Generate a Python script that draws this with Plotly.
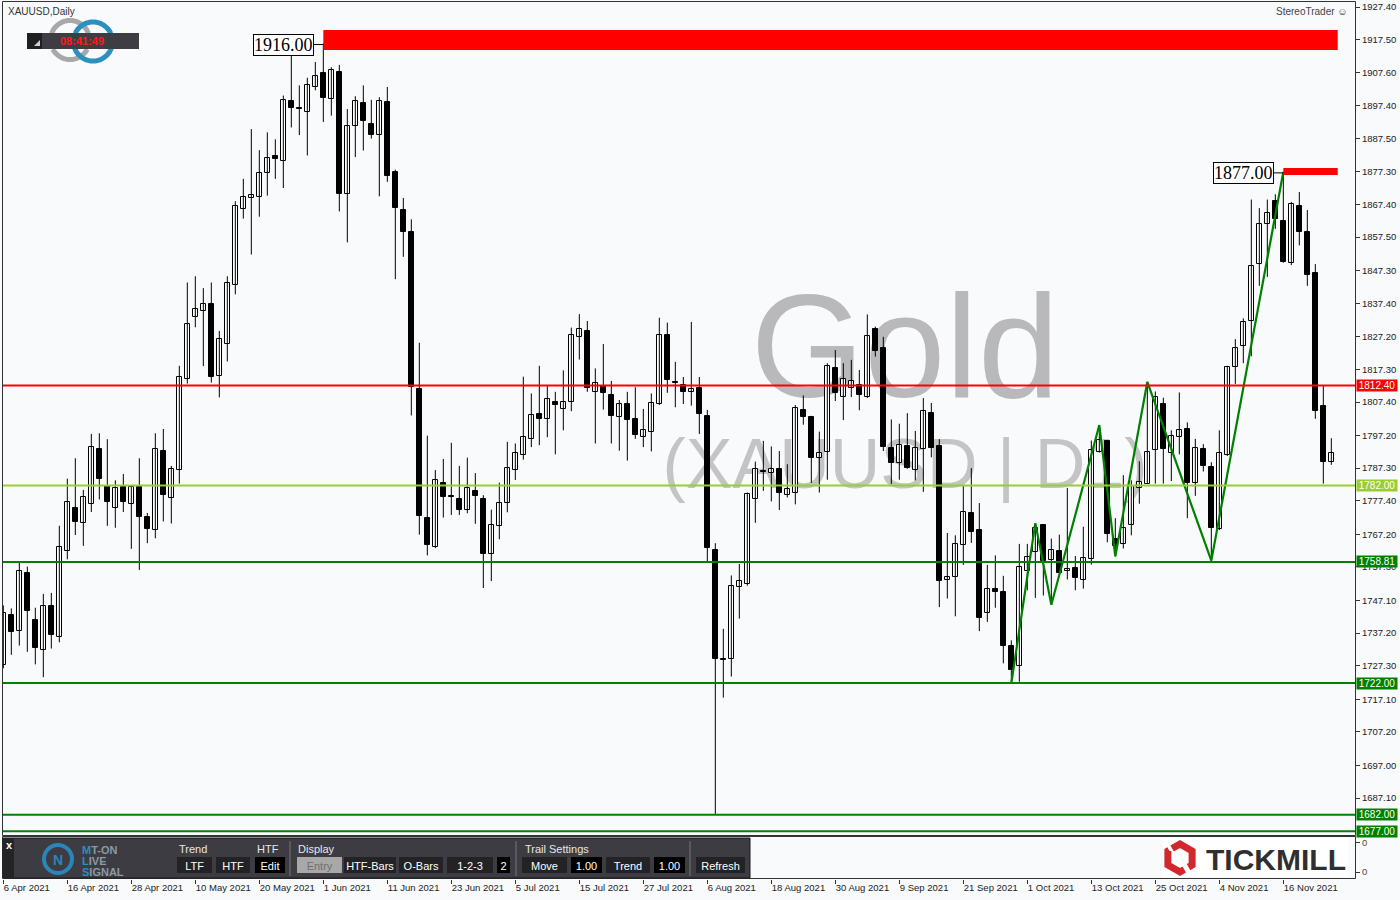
import math
import plotly.graph_objects as go

# ---------------- data ----------------
date_labels = ["6 Apr 2021", "16 Apr 2021", "28 Apr 2021", "10 May 2021", "20 May 2021",
               "1 Jun 2021", "11 Jun 2021", "23 Jun 2021", "5 Jul 2021", "15 Jul 2021",
               "27 Jul 2021", "6 Aug 2021", "18 Aug 2021", "30 Aug 2021", "9 Sep 2021",
               "21 Sep 2021", "1 Oct 2021", "13 Oct 2021", "25 Oct 2021", "4 Nov 2021",
               "16 Nov 2021"]
label_step = 8  # one date label every 8 daily bars

opens = [1727.4, 1742.6, 1737.7, 1755.5, 1741.3, 1732.1, 1745.4, 1736.1, 1762.2, 1775.2,
         1770.5, 1776.5, 1793.2, 1782.0, 1775.3, 1781.5, 1776.5, 1781.7, 1772.6, 1768.6,
         1792.6, 1778.1, 1786.8, 1814.4, 1833.3, 1835.0, 1837.2, 1815.2, 1825.0, 1843.0,
         1866.0, 1869.3, 1869.7, 1877.0, 1882.0, 1880.6, 1898.7, 1896.6, 1895.4, 1903.1,
         1907.4, 1899.5, 1907.6, 1870.7, 1891.3, 1898.2, 1891.8, 1888.4, 1898.4, 1877.2,
         1865.6, 1859.0, 1811.3, 1772.3, 1763.3, 1782.9, 1778.6, 1778.0, 1774.7, 1780.4,
         1778.0, 1761.2, 1769.6, 1776.7, 1786.7, 1791.3, 1796.1, 1803.8, 1802.2, 1807.3,
         1805.4, 1807.3, 1827.1, 1829.0, 1810.5, 1812.4, 1809.4, 1802.9, 1806.7, 1802.2,
         1796.9, 1798.3, 1806.7, 1827.9, 1813.5, 1812.6, 1810.3, 1811.8, 1803.0, 1762.4,
         1729.3, 1729.2, 1751.2, 1752.2, 1777.8, 1786.3, 1785.7, 1787.1, 1779.1, 1779.9,
         1805.1, 1802.8, 1790.3, 1792.2, 1817.6, 1808.9, 1811.8, 1812.6, 1808.9, 1829.5,
         1823.8, 1793.4, 1789.0, 1793.9, 1786.7, 1793.0, 1804.0, 1793.9, 1753.3, 1754.3,
         1763.9, 1773.6, 1768.4, 1743.2, 1750.5, 1749.6, 1733.4, 1727.2, 1756.2, 1761.9,
         1770.0, 1759.4, 1762.2, 1756.1, 1756.9, 1753.3, 1759.8, 1792.2, 1795.5, 1765.9,
         1764.3, 1770.0, 1781.3, 1782.6, 1792.7, 1806.9, 1792.0, 1796.7, 1799.1, 1782.8,
         1793.0, 1787.6, 1768.8, 1791.2, 1817.9, 1824.4, 1831.9, 1849.2, 1861.6, 1868.6,
         1862.3, 1849.5, 1867.0, 1859.0, 1846.6, 1806.1, 1789.1]
highs = [1745.6, 1744.7, 1758.6, 1757.4, 1744.9, 1749.1, 1749.4, 1769.8, 1784.1, 1790.3,
         1780.7, 1797.7, 1797.9, 1796.1, 1783.6, 1785.5, 1782.0, 1790.3, 1773.7, 1797.9,
         1799.2, 1788.0, 1818.4, 1843.7, 1845.6, 1842.0, 1843.7, 1829.0, 1845.6, 1868.4,
         1875.2, 1890.3, 1883.9, 1889.3, 1887.2, 1900.5, 1912.7, 1903.6, 1905.9, 1910.7,
         1916.3, 1909.1, 1909.8, 1896.4, 1900.3, 1903.6, 1899.2, 1900.0, 1903.1, 1878.0,
         1869.4, 1862.9, 1825.4, 1797.2, 1786.7, 1790.1, 1795.0, 1788.0, 1790.5, 1785.8,
         1779.1, 1774.7, 1782.9, 1795.3, 1794.8, 1815.1, 1810.0, 1818.4, 1812.4, 1810.5,
         1817.0, 1830.0, 1834.1, 1832.0, 1817.6, 1825.0, 1813.8, 1808.0, 1810.5, 1811.9,
         1805.3, 1810.0, 1833.0, 1831.5, 1819.6, 1815.0, 1831.7, 1815.0, 1805.0, 1764.5,
         1738.5, 1754.7, 1758.2, 1779.9, 1789.3, 1795.6, 1793.9, 1792.5, 1788.5, 1806.5,
         1809.4, 1803.2, 1798.4, 1819.2, 1823.2, 1819.2, 1820.2, 1817.1, 1834.0, 1830.3,
         1827.2, 1802.1, 1800.8, 1804.0, 1798.6, 1808.6, 1807.1, 1796.1, 1767.6, 1766.9,
         1782.0, 1787.3, 1776.7, 1757.9, 1760.8, 1754.6, 1735.0, 1764.3, 1764.3, 1770.6,
         1770.3, 1765.9, 1767.1, 1781.3, 1760.6, 1769.5, 1795.7, 1800.4, 1795.7, 1772.1,
         1785.2, 1783.6, 1789.4, 1813.5, 1810.6, 1808.7, 1798.8, 1810.3, 1801.2, 1796.2,
         1794.6, 1789.1, 1798.8, 1818.4, 1826.5, 1832.8, 1868.9, 1866.3, 1868.9, 1870.5,
         1877.3, 1868.2, 1871.2, 1865.7, 1849.3, 1812.4, 1796.4]
lows = [1726.5, 1730.6, 1733.4, 1731.5, 1727.7, 1723.8, 1732.5, 1734.4, 1759.6, 1767.0,
        1763.7, 1774.0, 1777.8, 1769.8, 1769.2, 1774.0, 1762.8, 1756.4, 1764.5, 1766.0,
        1771.1, 1770.5, 1782.6, 1813.0, 1830.1, 1818.3, 1813.3, 1808.8, 1819.7, 1840.1,
        1863.1, 1852.2, 1863.7, 1870.1, 1875.2, 1872.4, 1890.8, 1888.5, 1882.3, 1902.1,
        1892.5, 1894.4, 1865.3, 1855.9, 1881.8, 1883.8, 1887.4, 1869.9, 1874.3, 1844.7,
        1851.5, 1803.3, 1767.1, 1760.8, 1763.0, 1772.3, 1773.1, 1773.1, 1773.6, 1770.4,
        1750.9, 1753.0, 1765.7, 1773.9, 1783.7, 1789.9, 1793.7, 1794.3, 1796.7, 1791.5,
        1798.8, 1804.6, 1820.3, 1810.5, 1794.8, 1805.1, 1794.8, 1792.6, 1789.6, 1796.2,
        1793.7, 1792.4, 1806.5, 1810.2, 1805.8, 1806.8, 1806.3, 1797.7, 1758.9, 1682.0,
        1717.6, 1724.0, 1741.6, 1751.6, 1770.7, 1780.4, 1777.2, 1774.6, 1778.4, 1776.3,
        1800.5, 1782.8, 1779.9, 1783.8, 1807.7, 1801.9, 1808.9, 1804.9, 1808.6, 1821.2,
        1792.5, 1782.5, 1783.8, 1787.1, 1783.6, 1780.1, 1790.6, 1745.1, 1747.7, 1742.3,
        1757.9, 1764.6, 1737.8, 1740.6, 1744.9, 1728.0, 1721.9, 1722.4, 1750.2, 1747.9,
        1748.6, 1745.8, 1754.3, 1753.5, 1750.2, 1750.7, 1758.0, 1792.0, 1764.8, 1760.5,
        1762.9, 1766.9, 1776.5, 1782.6, 1782.6, 1782.6, 1783.4, 1791.5, 1772.1, 1778.9,
        1786.3, 1759.2, 1768.5, 1791.0, 1812.9, 1819.2, 1821.3, 1842.7, 1845.4, 1860.0,
        1849.7, 1849.0, 1855.0, 1842.7, 1802.3, 1782.6, 1788.3]
closes = [1743.4, 1737.5, 1756.2, 1743.9, 1732.8, 1745.4, 1736.5, 1763.3, 1777.1, 1771.0,
          1778.6, 1793.7, 1784.1, 1776.9, 1781.3, 1776.9, 1781.7, 1772.4, 1768.9, 1793.2,
          1779.2, 1787.1, 1814.9, 1831.0, 1835.6, 1837.2, 1814.9, 1826.4, 1843.5, 1866.9,
          1869.6, 1870.2, 1877.1, 1881.4, 1881.1, 1899.2, 1896.7, 1896.4, 1903.8, 1906.5,
          1899.8, 1908.4, 1870.5, 1891.3, 1898.9, 1892.9, 1888.6, 1898.9, 1876.2, 1866.2,
          1859.0, 1811.9, 1772.9, 1764.1, 1783.6, 1778.5, 1778.4, 1774.7, 1781.2, 1778.8,
          1761.2, 1770.1, 1776.7, 1787.4, 1791.8, 1796.8, 1803.5, 1802.2, 1808.3, 1806.4,
          1807.3, 1827.7, 1829.5, 1811.6, 1813.2, 1810.0, 1803.3, 1806.7, 1801.8, 1797.3,
          1798.8, 1807.1, 1827.9, 1814.0, 1813.1, 1810.3, 1811.5, 1803.9, 1763.2, 1729.4,
          1729.0, 1751.4, 1753.0, 1779.4, 1787.1, 1786.1, 1787.1, 1779.9, 1781.0, 1805.5,
          1802.8, 1790.3, 1791.9, 1818.3, 1810.2, 1814.3, 1813.9, 1809.4, 1827.4, 1823.0,
          1793.7, 1789.0, 1794.3, 1787.5, 1793.4, 1804.7, 1793.5, 1753.0, 1754.3, 1764.4,
          1773.9, 1767.8, 1741.9, 1750.5, 1749.8, 1733.4, 1726.1, 1757.2, 1760.4, 1769.2,
          1759.1, 1762.5, 1755.4, 1756.6, 1753.8, 1760.1, 1792.7, 1796.0, 1767.4, 1763.6,
          1769.2, 1781.8, 1783.1, 1792.2, 1808.9, 1793.0, 1797.0, 1798.8, 1782.8, 1793.3,
          1788.0, 1769.2, 1791.8, 1817.9, 1823.9, 1831.8, 1848.8, 1861.6, 1864.7, 1862.9,
          1850.0, 1867.5, 1859.0, 1845.9, 1804.6, 1789.1, 1792.0]

price_ticks = [1927.40, 1917.50, 1907.60, 1897.40, 1887.50, 1877.30, 1867.40, 1857.50,
               1847.30, 1837.40, 1827.20, 1817.30, 1807.40, 1797.20, 1787.30, 1777.40,
               1767.20, 1757.30, 1747.10, 1737.20, 1727.30, 1717.10, 1707.20, 1697.00,
               1687.10]

levels = [1812.40, 1782.00, 1758.81, 1722.00, 1682.00, 1677.00]
level_colors = ["#ff0000", "#9acd32", "#008000", "#008000", "#008000", "#008000"]

zone_values = [1916.00, 1877.00]
zone_start_bar = [40, 160]
zone_top = [1920.4, 1878.5]
zone_bottom = [1914.3, 1876.4]
zone_end_bar = 166.8

zigzag_bars = [126, 129, 131, 137, 139, 143, 151, 160]
zigzag_kind = ["L", "H", "L", "H", "L", "H", "L", "H"]

# ---------------- geometry helpers ----------------
W, H = 1400, 900
def PX(x):
    return x / W
def PY(y):
    return 1 - y / H

BG = "#f8fafc"
ppu = (798 - 7) / (price_ticks[0] - price_ticks[-1])     # pixels per USD
y_hi = price_ticks[0] + (7 - 1) / ppu
y_lo = price_ticks[0] - (835 - 7) / ppu

n = len(opens)
bars = list(range(n))

fig = go.Figure()

# wicks
wx, wy = [], []
for i in bars:
    wx += [i, i, None]
    wy += [lows[i], highs[i], None]
fig.add_trace(go.Scatter(x=wx, y=wy, mode="lines", line=dict(color="black", width=1),
                         hoverinfo="skip", showlegend=False))

# bodies
base = [min(o, c) for o, c in zip(opens, closes)]
height = [max(abs(c - o), 0.3) for o, c in zip(opens, closes)]
colors = ["black" if c < o else "white" for o, c in zip(opens, closes)]
fig.add_trace(go.Bar(x=bars, y=height, base=base, width=0.68,
                     marker=dict(color=colors, line=dict(color="black", width=1)),
                     hoverinfo="skip", showlegend=False))

# zigzag
zz_y = [lows[b] if k == "L" else highs[b] for b, k in zip(zigzag_bars, zigzag_kind)]
fig.add_trace(go.Scatter(x=zigzag_bars, y=zz_y, mode="lines",
                         line=dict(color="#008000", width=2.2),
                         hoverinfo="skip", showlegend=False))

# dummy trace for the lower pane
fig.add_trace(go.Scatter(x=[0], y=[0.5], xaxis="x", yaxis="y2", mode="markers",
                         marker=dict(opacity=0), hoverinfo="skip", showlegend=False))

shapes = []
annotations = []

# watermark (drawn below candles)
shapes.append(dict(type="rect", xref="paper", yref="paper", layer="below",
                   x0=PX(700), x1=PX(1110), y0=PY(396), y1=PY(268),
                   line=dict(width=0), fillcolor="rgba(0,0,0,0)",
                   label=dict(text="Gold", textposition="middle center",
                              font=dict(family="Liberation Sans", size=146, color="#b9b9bb"))))
shapes.append(dict(type="rect", xref="paper", yref="paper", layer="below",
                   x0=PX(600), x1=PX(1210), y0=PY(495), y1=PY(419),
                   line=dict(width=0), fillcolor="rgba(0,0,0,0)",
                   label=dict(text="(XAUUSD | D1)", textposition="middle center",
                              font=dict(family="Liberation Sans", size=70, color="#c4c4c6"))))

# zones
for i in range(len(zone_values)):
    shapes.append(dict(type="rect", xref="x", yref="y", x0=zone_start_bar[i], x1=zone_end_bar,
                       y0=zone_bottom[i], y1=zone_top[i], fillcolor="#ff0000",
                       line=dict(width=0), layer="above"))
    annotations.append(dict(x=zone_start_bar[i], y=zone_values[i], xref="x", yref="y",
                            text=f"{zone_values[i]:.2f}", showarrow=True, arrowhead=0,
                            arrowwidth=1, arrowcolor="black", ax=-40, ay=0,
                            font=dict(family="Liberation Serif", size=18, color="black"),
                            bgcolor="white", bordercolor="black", borderwidth=1, borderpad=0))

# horizontal levels and their price tags
for lv, col in zip(levels, level_colors):
    shapes.append(dict(type="line", xref="paper", yref="y", x0=PX(3), x1=PX(1355),
                       y0=lv, y1=lv, line=dict(color=col, width=2)))
    annotations.append(dict(x=PX(1356), y=lv, xref="paper", yref="y", xanchor="left",
                            yanchor="middle", text=f"{lv:.2f}", showarrow=False,
                            font=dict(family="Liberation Sans", size=10, color="white"),
                            bgcolor=col, width=40, height=11, borderpad=0, align="center"))

# pane frames
shapes.append(dict(type="rect", xref="paper", yref="paper", x0=PX(2.5), x1=PX(1355.5),
                   y0=PY(835.5), y1=PY(1.5), line=dict(color="#333333", width=1)))
shapes.append(dict(type="rect", xref="paper", yref="paper", x0=PX(2.5), x1=PX(1355.5),
                   y0=PY(878.5), y1=PY(836.5), line=dict(color="#333333", width=1)))

# ---- top-left: symbol text + clock widget ----
annotations.append(dict(x=PX(6), y=PY(11), xref="paper", yref="paper", xanchor="left",
                        yanchor="middle", text="XAUUSD,Daily", showarrow=False,
                        font=dict(family="Liberation Sans", size=10, color="#333333")))

def ring_arcs(cx, cy, r, ytop, ybot, color):
    out = []
    for lo, hi, keep in [(0, 180, lambda y: y < ytop), (180, 360, lambda y: y > ybot)]:
        pts = []
        for a in range(lo, hi + 1, 4):
            x = cx + r * math.cos(math.radians(a))
            y = cy - r * math.sin(math.radians(a))
            if keep(y):
                pts.append((x, y))
        if len(pts) > 1:
            path = "M " + " L ".join(f"{PX(x)} {PY(y)}" for x, y in pts)
            out.append(dict(type="path", xref="paper", yref="paper", path=path,
                            line=dict(color=color, width=5)))
    return out

shapes += ring_arcs(70, 40, 19.5, 34, 48, "#a8a8a8")
shapes += ring_arcs(93, 41.5, 19.5, 34, 48, "#2b8fc0")
shapes.append(dict(type="rect", xref="paper", yref="paper", x0=PX(27), x1=PX(139),
                   y0=PY(49), y1=PY(33), fillcolor="#3e3d43", line=dict(width=0)))
shapes.append(dict(type="rect", xref="paper", yref="paper", x0=PX(27), x1=PX(42),
                   y0=PY(49), y1=PY(33), fillcolor="#1f1f22", line=dict(width=0)))
shapes.append(dict(type="path", xref="paper", yref="paper",
                   path=f"M {PX(34)} {PY(46)} L {PX(40)} {PY(46)} L {PX(40)} {PY(40)} Z",
                   fillcolor="#d0d0d0", line=dict(width=0)))
annotations.append(dict(x=PX(82), y=PY(41), xref="paper", yref="paper", text="<b>08:41:49</b>",
                        xanchor="center", yanchor="middle", showarrow=False,
                        font=dict(family="Liberation Sans", size=11, color="#ff1a1a")))

# top-right brand
annotations.append(dict(x=PX(1350), y=PY(12), xref="paper", yref="paper", xanchor="right",
                        yanchor="middle", text="StereoTrader \u263a", showarrow=False,
                        font=dict(family="Liberation Sans", size=10, color="#444444")))

# ---- bottom toolbar ----
FN = "Liberation Sans"
shapes.append(dict(type="rect", xref="paper", yref="paper", x0=PX(3), x1=PX(750),
                   y0=PY(878), y1=PY(838), fillcolor="#3d3c42", line=dict(color="#1a1a1a", width=1)))
shapes.append(dict(type="rect", xref="paper", yref="paper", x0=PX(3), x1=PX(14),
                   y0=PY(878), y1=PY(838), fillcolor="#242426", line=dict(width=0)))
annotations.append(dict(x=PX(9), y=PY(845), xref="paper", yref="paper", text="<b>x</b>",
                        xanchor="center", yanchor="middle", showarrow=False,
                        font=dict(family="Liberation Sans", size=11, color="white")))
for sx in [290, 516, 690]:
    shapes.append(dict(type="line", xref="paper", yref="paper", x0=PX(sx), x1=PX(sx),
                       y0=PY(876), y1=PY(841), line=dict(color="#77777a", width=1)))

# MT-ON logo
shapes.append(dict(type="circle", xref="paper", yref="paper", x0=PX(44), x1=PX(72),
                   y0=PY(873), y1=PY(845), line=dict(color="#2a86b8", width=4)))
annotations.append(dict(x=PX(58), y=PY(860), xref="paper", yref="paper", text="<b>N</b>",
                        xanchor="center", yanchor="middle", showarrow=False,
                        font=dict(family="Liberation Sans", size=14, color="#2a86b8")))
for txt, yy in [("M|T-ON", 849), ("L|IVE", 860), ("S|IGNAL", 871)]:
    a, b = txt.split("|")
    annotations.append(dict(x=PX(81), y=PY(yy), xref="paper", yref="paper", xanchor="left",
                            yanchor="middle", showarrow=False, height=11, borderpad=0,
                            text=f"<b><span style='color:#2a8fc6'>{a}</span>"
                                 f"<span style='color:#8a9aa6'>{b}</span></b>",
                            font=dict(family="Liberation Sans", size=11)))

for txt, xx in [("Trend", 177), ("HTF", 255), ("Display", 296), ("Trail Settings", 523)]:
    annotations.append(dict(x=PX(xx), y=PY(849), xref="paper", yref="paper", xanchor="left",
                            yanchor="middle", text=txt, showarrow=False,
                            font=dict(family=FN, size=11, color="#e8e8e8")))

buttons = [("LTF", 177, 212, "#232326", "white"), ("HTF", 216, 250, "#232326", "white"),
           ("Edit", 255, 285, "#000000", "white"), ("Entry", 297, 342, "#a8a8a8", "#707070"),
           ("HTF-Bars", 344, 396, "#232326", "white"), ("O-Bars", 399, 443, "#232326", "white"),
           ("1-2-3", 447, 493, "#232326", "white"), ("2", 497, 510, "#000000", "white"),
           ("Move", 522, 567, "#232326", "white"), ("1.00", 571, 602, "#000000", "white"),
           ("Trend", 606, 650, "#232326", "white"), ("1.00", 654, 685, "#000000", "white"),
           ("Refresh", 696, 745, "#232326", "white")]
for txt, x0, x1, fc, tc in buttons:
    shapes.append(dict(type="rect", xref="paper", yref="paper", x0=PX(x0), x1=PX(x1),
                       y0=PY(873), y1=PY(857), fillcolor=fc, line=dict(width=0),
                       label=dict(text=txt, textposition="middle center",
                                  font=dict(family=FN, size=11, color=tc))))

# Tickmill logo
shapes.append(dict(type="rect", xref="paper", yref="paper", x0=PX(1163), x1=PX(1348),
                   y0=PY(877), y1=PY(838), fillcolor="white", line=dict(width=0)))
cx, cy, r = 1180, 858, 14
vert = [(cx + r * math.cos(math.radians(a)), cy - r * math.sin(math.radians(a)))
        for a in [90, 30, -30, -90, -150, 150]]
def lerp(p, q, t):
    return (p[0] + (q[0] - p[0]) * t, p[1] + (q[1] - p[1]) * t)
pa = [lerp(vert[5], vert[0], 0.35), vert[0], vert[1], vert[2], lerp(vert[2], vert[3], 0.3)]
pb = [lerp(vert[2], vert[3], 0.65), vert[3], vert[4], vert[5], lerp(vert[5], vert[0], 0.1)]
for pts in (pa, pb):
    path = "M " + " L ".join(f"{PX(x)} {PY(y)}" for x, y in pts)
    shapes.append(dict(type="path", xref="paper", yref="paper", path=path,
                       line=dict(color="#d1282e", width=7)))
annotations.append(dict(x=PX(1204), y=PY(859), xref="paper", yref="paper", xanchor="left",
                        yanchor="middle", text="<b>TICKMILL</b>", showarrow=False,
                        font=dict(family="Liberation Sans", size=30, color="#2f2f2f")))

fig.update_layout(
    width=W, height=H, autosize=False,
    margin=dict(l=0, r=0, t=0, b=0),
    paper_bgcolor=BG, plot_bgcolor=BG,
    showlegend=False, barmode="overlay", bargap=0,
    xaxis=dict(domain=[PX(3), PX(1355)], range=[-0.04, 168.96], anchor="y2",
               tickmode="array", tickvals=[i * label_step for i in range(len(date_labels))],
               ticktext=date_labels, ticks="outside", ticklen=4, tickcolor="#333333",
               ticklabelposition="outside right", showgrid=False, zeroline=False,
               showline=False, automargin=False,
               tickfont=dict(family="Liberation Sans", size=9.5, color="#222222")),
    yaxis=dict(domain=[PY(835), PY(1)], range=[y_lo, y_hi], side="right", anchor="x",
               tickmode="array", tickvals=price_ticks, ticktext=[f"{v:.2f}" for v in price_ticks],
               ticks="outside", ticklen=4, tickcolor="#333333", showgrid=False, zeroline=False,
               showline=False, automargin=False,
               tickfont=dict(family="Liberation Sans", size=9.5, color="#222222")),
    yaxis2=dict(domain=[PY(879), PY(836)], range=[0, 1], side="right", anchor="x",
                tickmode="array", tickvals=[0.16, 0.84], ticktext=["0", "0"],
                ticks="outside", ticklen=4, tickcolor="#333333", showgrid=False,
                zeroline=False, showline=False, automargin=False,
                tickfont=dict(family="Liberation Sans", size=9.5, color="#5a4632")),
    shapes=shapes,
    annotations=annotations,
)

fig.write_html("out.html", config={"displayModeBar": False},
               post_script="document.body.style.margin='0px';document.body.style.padding='0px';"
                           "document.documentElement.style.overflow='hidden';")
